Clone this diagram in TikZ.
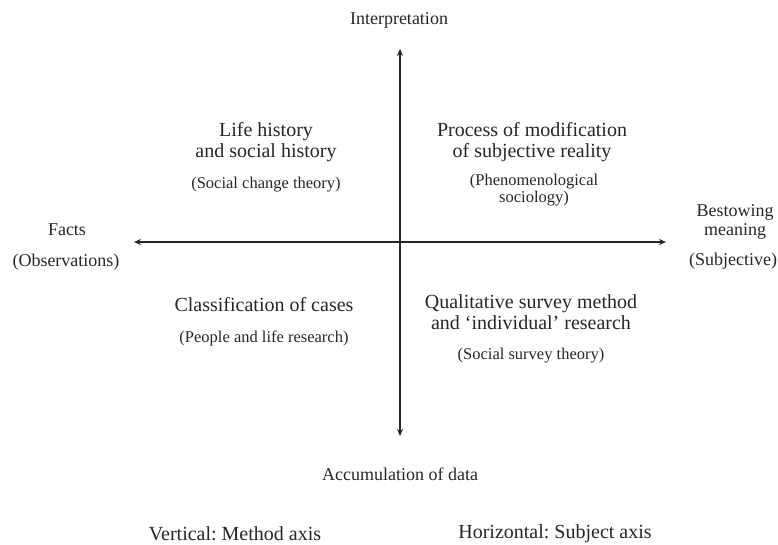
\documentclass[tikz,border=0pt]{standalone}
\usepackage{fontspec}
\setmainfont{Liberation Serif}
\usetikzlibrary{arrows.meta}
\frenchspacing
\begin{document}
\begin{tikzpicture}[x=1pt,y=-1pt,
  axis/.style={line width=1.4pt,draw=black!85,-{Stealth[length=7pt,width=6pt]}},
  quad/.style={align=center,font=\fontsize{20}{21}\selectfont,text=black!85,inner sep=0pt},
  sub/.style={align=center,font=\fontsize{16.5}{17}\selectfont,text=black!85,inner sep=0pt},
  ax/.style={align=center,font=\fontsize{18}{19}\selectfont,text=black!85,inner sep=0pt},
  foot/.style={font=\fontsize{20}{21}\selectfont,text=black!85,inner sep=0pt}]
\useasboundingbox (0,0) rectangle (778,544);

% axis ends
\coordinate (c) at (400,242);
\coordinate (top) at (400,49);
\coordinate (bot) at (400,436);
\coordinate (lft) at (134,242);
\coordinate (rgt) at (666,242);

\draw[axis] (c) -- (top);
\draw[axis] (c) -- (bot);
\draw[axis] (c) -- (lft);
\draw[axis] (c) -- (rgt);

% axis labels
\node[ax] (interp) at (399,20) {Interpretation};
\node[ax] (accum) at (400,474) {Accumulation of data};
\node[ax] (facts) at (67,230) {Facts};
\node[ax] (obs) at (66,262) {(Observations)};
\node[ax] (bestow) at (735,222) {Bestowing\\meaning};
\node[ax] (subj) at (733,261) {(Subjective)};

% quadrants
\node[quad] (lh) at (266,142) {Life history\\and social history};
\node[sub] (lhs) at (266,185) {(Social change theory)};
\node[quad] (pm) at (532,142) {Process of modification\\of subjective reality};
\node[sub] (pms) at (534,190) {(Phenomenological\\sociology)};
\node[quad] (cc) at (264,305) {Classification of cases};
\node[sub] (ccs) at (264,338) {(People and life research)};
\node[quad] (qs) at (531,312) {Qualitative survey method\\and `individual' research};
\node[sub] (qss) at (531,356) {(Social survey theory)};

% footer
\node[foot] (va) at (235,534) {Vertical: Method axis};
\node[foot] (ha) at (555,534) {Horizontal: Subject axis};
\end{tikzpicture}
\end{document}
